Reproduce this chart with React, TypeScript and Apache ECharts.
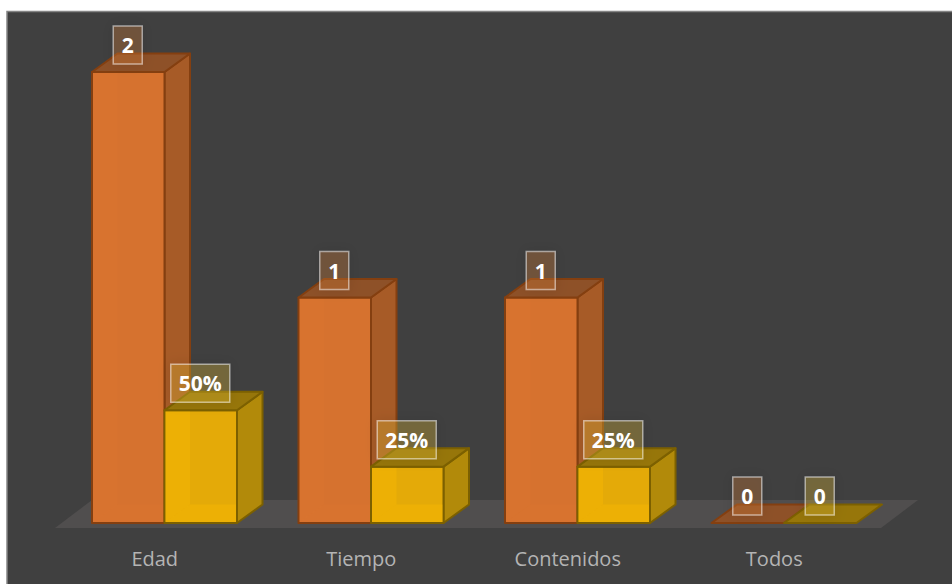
import React, { useEffect, useRef } from "react";
import * as echarts from "echarts";

const categories = ["Edad", "Tiempo", "Contenidos", "Todos"];
const conteo = [2, 1, 1, 0];
const porcentaje = [0.5, 0.25, 0.25, 0];
const conteoLabels = ["2", "1", "1", "0"];
const porcentajeLabels = ["50%", "25%", "25%", "0"];

const DEPTH_X = 25.5;
const DEPTH_Y = 18.5;
const BAND_TO_BAR = 72.5 / 206.5;
const GROUP_SHIFT = 9.75;

const orange = { front: "#D6722F", side: "#A75B27", top: "#8E5128", edge: "#843F10", tint: "rgba(255,140,50,0.07)", box: "rgba(214,125,60,0.3)" };
const yellow = { front: "#E4AA08", side: "#B28A0A", top: "#97760A", edge: "#7C6000", tint: "rgba(255,190,0,0.35)", box: "rgba(225,190,60,0.3)" };

function makeBarRender(palette: typeof orange, labels: string[], slot: number) {
  return (params: any, api: any) => {
    const idx = api.value(0);
    const val = api.value(1);
    const [cx, yTop] = api.coord([idx, val]);
    const [, y0] = api.coord([idx, 0]);
    const w = api.size([1, 0])[0] * BAND_TO_BAR;
    const x = cx + GROUP_SHIFT + (slot === 0 ? -w : 0);
    const line = { stroke: palette.edge, lineWidth: 2, lineJoin: "round" };
    const children: any[] = [];
    if (y0 - yTop > 0.5) {
      children.push({
        type: "polygon",
        shape: { points: [[x + w, y0], [x + w + DEPTH_X, y0 - DEPTH_Y], [x + w + DEPTH_X, yTop - DEPTH_Y], [x + w, yTop]] },
        style: { fill: palette.side, ...line },
      });
      children.push({ type: "rect", shape: { x, y: yTop, width: w, height: y0 - yTop }, style: { fill: palette.front, ...line } });
      children.push({
        type: "polygon",
        shape: { points: [[x + 1, y0 - 1], [x + DEPTH_X, y0 - DEPTH_Y], [x + DEPTH_X, yTop + 1], [x + 1, yTop + 1]] },
        style: { fill: palette.tint },
      });
      children.push({
        type: "polygon",
        shape: { points: [[x + 1, y0 - 1], [x + w - 1, y0 - 1], [x + w - 1, y0 - DEPTH_Y], [x + DEPTH_X, y0 - DEPTH_Y]] },
        style: { fill: palette.tint },
      });
    }
    children.push({
      type: "polygon",
      shape: { points: [[x, yTop], [x + w, yTop], [x + w + DEPTH_X, yTop - DEPTH_Y], [x + DEPTH_X, yTop - DEPTH_Y]] },
      style: { fill: palette.top, ...line },
    });
    const text = labels[idx];
    const boxW = text.length > 1 ? 59 : 29;
    const boxH = 38;
    const bx = x + w / 2 - boxW / 2 - 0.5;
    const by = yTop - 8 - boxH;
    children.push({
      type: "rect",
      shape: { x: bx, y: by, width: boxW, height: boxH },
      style: {
        fill: palette.box,
        stroke: "rgba(255,255,255,0.5)",
        lineWidth: 1.5,
        shadowBlur: 12,
        shadowColor: "rgba(0,0,0,0.25)",
      },
    });
    children.push({
      type: "text",
      style: {
        x: bx + boxW / 2,
        y: by + boxH / 2,
        text,
        fill: "#FFFFFF",
        font: "bold 21px 'Open Sans'",
        align: "center",
        verticalAlign: "middle",
      },
    });
    return { type: "group", children };
  };
}

export default function App() {
  const ref = useRef<HTMLDivElement>(null);
  useEffect(() => {
    const chart = echarts.init(ref.current!, undefined, { renderer: "svg" });
    chart.setOption({
      animation: false,
      backgroundColor: "#FFFFFF",
      grid: { left: 51.5, width: 826, top: 72, bottom: 61 },
      xAxis: {
        type: "category",
        data: categories,
        axisLine: { show: false },
        axisTick: { show: false },
        axisLabel: { color: "#B4B4B4", fontFamily: "Open Sans", fontSize: 20, margin: 25 },
      },
      yAxis: { type: "value", min: 0, max: 2, show: false, splitLine: { show: false } },
      graphic: [
        {
          type: "rect",
          z: -2,
          silent: true,
          shape: { x: 7, y: 11.5, width: 950, height: 580 },
          style: { fill: "#404040", stroke: "#858585", lineWidth: 1.5 },
        },
        {
          type: "polygon",
          z: -1,
          silent: true,
          shape: { points: [[55, 528], [92, 500], [918, 500], [881, 528]] },
          style: { fill: "#504E4E" },
        },
      ],
      series: [
        {
          type: "custom",
          name: "Cantidad",
          data: conteo.map((v, i) => [i, v]),
          renderItem: makeBarRender(orange, conteoLabels, 0),
          encode: { x: 0, y: 1 },
          z: 2,
        },
        {
          type: "custom",
          name: "Porcentaje",
          data: porcentaje.map((v, i) => [i, v]),
          renderItem: makeBarRender(yellow, porcentajeLabels, 1),
          encode: { x: 0, y: 1 },
          z: 3,
        },
      ],
    });
    return () => chart.dispose();
  }, []);
  return <div ref={ref} style={{ position: "absolute", left: 0, top: 0, width: 952, height: 584 }} />;
}
